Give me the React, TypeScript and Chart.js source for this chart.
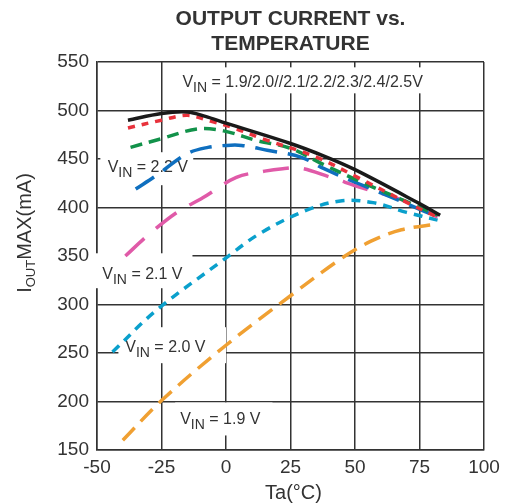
import React, { useEffect, useRef } from "react";
import { Chart, registerables } from "chart.js";

Chart.register(...registerables);

// ---- data (Ta °C, IOUTMAX mA) ----
const vin25T = [-38, -25, -15, -8, 0, 25, 38, 50, 75, 83];
const vin25I = [490, 497, 498.5, 494, 487, 466, 453, 439, 404, 392];

const vin24T = [-38, -25, -15, -6, 3, 14, 35, 51, 71, 82];
const vin24I = [482, 490, 495, 489, 482, 471, 452, 431, 404, 390];

const vin23T = [-37, -25, -11, -1, 12, 25, 38, 51, 70, 82];
const vin23I = [462, 471, 481, 479, 469, 461, 444, 428, 406, 392];

const vin22T = [-35, -27, -15, -7, 0, 6, 16, 29, 38, 51, 70, 82];
const vin22I = [419, 433, 455.6, 462, 464, 464, 459, 452, 440, 425, 404, 390];

const vin21T = [-39, -30, -19, -9, 4, 15, 22, 29, 40, 53, 69, 82];
const vin21I = [350, 372, 395, 410, 431, 437.5, 440, 440.5, 431.5, 420, 407, 390];

const vin20T = [-44, -27, -1, 13, 31, 45, 57, 70, 82];
const vin20I = [251, 294, 346, 373, 397, 407, 405, 395, 387];

const vin19T = [-40, -25, 0, 25, 45, 56, 68, 82];
const vin19I = [160, 201, 258, 309, 348, 365, 377, 383];

const xTicks = [-50, -25, 0, 25, 50, 75, 100];
const yTicks = [150, 200, 250, 300, 350, 400, 450, 500, 550];

const titleLines = ["OUTPUT CURRENT vs.", "TEMPERATURE"];
const xTitle = "Ta(°C)";

// annotation labels: text rest, anchor (data), box (data)
const labelTexts = [" = 1.9/2.0//2.1/2.2/2.3/2.4/2.5V", " = 2.2 V", " = 2.1 V", " = 2.0 V", " = 1.9 V"];
const labelAnchorT = [29.7, -30.3, -32.4, -23.5, -2.2];
const labelAnchorI = [530.1, 442.7, 332.7, 257.1, 183.2];
const boxT0 = [-17.7, -48.7, -50.6, -41.7, -19.7];
const boxT1 = [78, -12.7, -13, 0, 18];
const boxI0 = [517.7, 423, 316.8, 239.5, 165];
const boxI1 = [544.5, 457, 352.8, 276.6, 199];

const FONT = '"Liberation Sans", Arial, Helvetica, sans-serif';
const TXT = "#333333";

function pts(t: number[], v: number[]) {
  return t.map((x, i) => ({ x, y: v[i] }));
}

function drawVin(ctx: CanvasRenderingContext2D, cx: number, cy: number, rest: string) {
  const f = 16;
  const s = 14;
  ctx.font = `${f}px ${FONT}`;
  const wV = ctx.measureText("V").width;
  const wRest = ctx.measureText(rest).width;
  ctx.font = `${s}px ${FONT}`;
  const wIN = ctx.measureText("IN").width;
  const total = wV + wIN + wRest;
  let x = cx - total / 2;
  const base = cy + 0.358 * f;
  ctx.textAlign = "left";
  ctx.textBaseline = "alphabetic";
  ctx.fillStyle = TXT;
  ctx.font = `${f}px ${FONT}`;
  ctx.fillText("V", x, base);
  x += wV;
  ctx.font = `${s}px ${FONT}`;
  ctx.fillText("IN", x, base + 5);
  x += wIN;
  ctx.font = `${f}px ${FONT}`;
  ctx.fillText(rest, x, base);
}

const textPlugin = {
  id: "textPlugin",
  beforeDatasetsDraw(chart: any) {
    const ctx: CanvasRenderingContext2D = chart.ctx;
    const xs = chart.scales.x;
    const ys = chart.scales.y;
    ctx.save();
    for (let i = 0; i < labelTexts.length; i++) {
      const x0 = xs.getPixelForValue(boxT0[i]);
      const x1 = xs.getPixelForValue(boxT1[i]);
      const y0 = ys.getPixelForValue(boxI1[i]);
      const y1 = ys.getPixelForValue(boxI0[i]);
      ctx.fillStyle = "#ffffff";
      ctx.fillRect(x0, y0, x1 - x0, y1 - y0);
    }
    for (let i = 0; i < labelTexts.length; i++) {
      drawVin(ctx, xs.getPixelForValue(labelAnchorT[i]), ys.getPixelForValue(labelAnchorI[i]), labelTexts[i]);
    }
    ctx.restore();
  },
  afterDraw(chart: any) {
    const ctx: CanvasRenderingContext2D = chart.ctx;
    const area = chart.chartArea;
    const cx = (area.left + area.right) / 2;
    ctx.save();
    ctx.fillStyle = TXT;
    ctx.textAlign = "center";
    ctx.textBaseline = "alphabetic";
    ctx.font = `bold 21px ${FONT}`;
    ctx.fillText(titleLines[0], cx, 25);
    ctx.fillText(titleLines[1], cx, 50);

    ctx.font = `20px ${FONT}`;
    ctx.fillText(xTitle, cx + 3, 499);

    // y title: I_OUT MAX(mA)
    ctx.translate(31, 233);
    ctx.rotate(-Math.PI / 2);
    const f = 20;
    const s = 13;
    ctx.font = `${f}px ${FONT}`;
    const wI = ctx.measureText("I").width;
    const wRest = ctx.measureText("MAX(mA)").width;
    ctx.font = `${s}px ${FONT}`;
    const wOut = ctx.measureText("OUT").width;
    let x = -(wI + wOut + wRest) / 2;
    ctx.textAlign = "left";
    ctx.font = `${f}px ${FONT}`;
    ctx.fillText("I", x, 0);
    x += wI;
    ctx.font = `${s}px ${FONT}`;
    ctx.fillText("OUT", x, 4);
    x += wOut;
    ctx.font = `${f}px ${FONT}`;
    ctx.fillText("MAX(mA)", x, 0);
    ctx.restore();
  },
};

export default function App() {
  const ref = useRef<HTMLCanvasElement>(null);
  useEffect(() => {
    if (!ref.current) return;
    const ds = (label: string, t: number[], v: number[], color: string, dash: number[]) => ({
      label,
      data: pts(t, v),
      borderColor: color,
      backgroundColor: color,
      borderWidth: 3.5,
      borderDash: dash,
      borderCapStyle: "butt" as const,
      pointRadius: 0,
      tension: 0.35,
      fill: false,
    });
    const chart = new Chart(ref.current, {
      type: "line",
      data: {
        datasets: [
          ds("2.5V", vin25T, vin25I, "#1a1a1a", []),
          ds("2.4V", vin24T, vin24I, "#e8323c", [7, 7]),
          ds("2.3V", vin23T, vin23I, "#12924a", [12, 7]),
          ds("2.2V", vin22T, vin22I, "#0f6fbf", [22, 11]),
          ds("2.1V", vin21T, vin21I, "#e05aa8", [26, 15]),
          ds("2.0V", vin20T, vin20I, "#0aa0cc", [9, 7]),
          ds("1.9V", vin19T, vin19I, "#f0a032", [17, 9]),
        ],
      },
      options: {
        responsive: false,
        animation: false,
        events: [],
        layout: { padding: { top: 62, right: 27, left: 0, bottom: 0 } },
        plugins: {
          legend: { display: false },
          tooltip: { enabled: false },
          title: { display: false },
        },
        scales: {
          x: {
            type: "linear",
            min: xTicks[0],
            max: xTicks[xTicks.length - 1],
            afterBuildTicks: (s: any) => {
              s.ticks = xTicks.map((v) => ({ value: v }));
            },
            afterFit: (s: any) => {
              s.height = 53;
            },
            ticks: { color: TXT, font: { family: FONT, size: 19 }, padding: 6, maxRotation: 0, autoSkip: false },
            grid: { color: "#333333", lineWidth: 1.5, drawTicks: false },
            border: { color: "#333333", width: 1.5 },
          },
          y: {
            type: "linear",
            min: yTicks[0],
            max: yTicks[yTicks.length - 1],
            afterBuildTicks: (s: any) => {
              s.ticks = yTicks.map((v) => ({ value: v }));
            },
            afterFit: (s: any) => {
              s.width = 97;
            },
            ticks: { color: TXT, font: { family: FONT, size: 19 }, padding: 8, autoSkip: false },
            grid: { color: "#333333", lineWidth: 1.5, drawTicks: false },
            border: { color: "#333333", width: 1.5 },
          },
        },
      },
      plugins: [textPlugin],
    });
    return () => chart.destroy();
  }, []);
  return (
    <div style={{ position: "absolute", left: 0, top: 0, width: 511, height: 503, background: "#fff" }}>
      <canvas ref={ref} width={511} height={503} style={{ width: 511, height: 503 }} />
    </div>
  );
}
